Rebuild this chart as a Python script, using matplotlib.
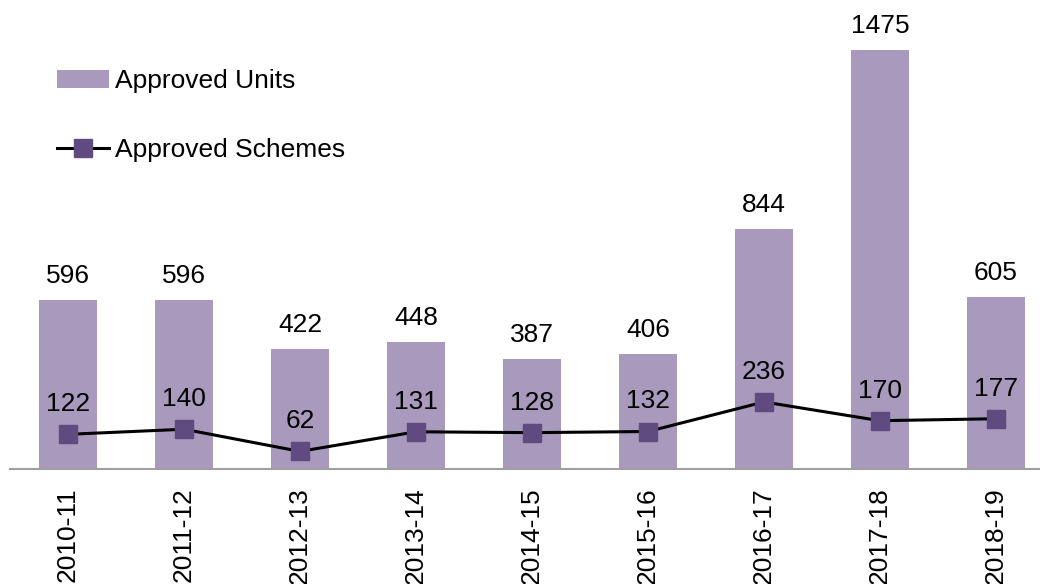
import matplotlib
matplotlib.use('Agg')
import matplotlib.pyplot as plt
import numpy as np

plt.rcParams['font.family'] = ['Liberation Sans', 'DejaVu Sans']

years = ['2010-11', '2011-12', '2012-13', '2013-14', '2014-15', '2015-16', '2016-17', '2017-18', '2018-19']
units = [596, 596, 422, 448, 387, 406, 844, 1475, 605]
schemes = [122, 140, 62, 131, 128, 132, 236, 170, 177]

bar_color = '#A899BD'
marker_color = '#5F4B80'
fs = 19

fig = plt.figure(figsize=(10.4, 5.84), dpi=100)
# axes: left 10px, right 1040px, bottom at 469px from top, top at 0
ax = fig.add_axes([10 / 1040, (584 - 469) / 584, 1030 / 1040, 469 / 584])

x = np.arange(len(years))
bars = ax.bar(x, units, width=0.5, color=bar_color, label='Approved Units', zorder=1)
line, = ax.plot(x, schemes, color='black', lw=2.2, marker='s', markersize=13,
                markerfacecolor=marker_color, markeredgecolor=marker_color,
                label='Approved Schemes', zorder=3)

ax.set_xlim(-0.5, 8.38)
ax.set_ylim(0, 1651)

for xi, v in zip(x, units):
    ax.annotate(str(v), (xi, v), xytext=(0, 8.5), textcoords='offset points',
                ha='center', va='bottom', fontsize=fs)
for xi, v in zip(x, schemes):
    ax.annotate(str(v), (xi, v), xytext=(0, 13), textcoords='offset points',
                ha='center', va='bottom', fontsize=fs)

ax.set_xticks(x)
ax.set_xticklabels(years, rotation=90, fontsize=fs)
ax.tick_params(axis='x', length=0, pad=13)
ax.set_yticks([])
for s in ['top', 'right', 'left']:
    ax.spines[s].set_visible(False)
ax.spines['bottom'].set_color('#A0A0A0')
ax.spines['bottom'].set_linewidth(1.5)

ax.legend(handles=[bars, line], loc='upper left', bbox_to_anchor=(0.035, 0.875),
          frameon=False, fontsize=fs, handlelength=2.0, handletextpad=0.2,
          labelspacing=1.7, borderaxespad=0)

fig.savefig('out.png', dpi=100)
